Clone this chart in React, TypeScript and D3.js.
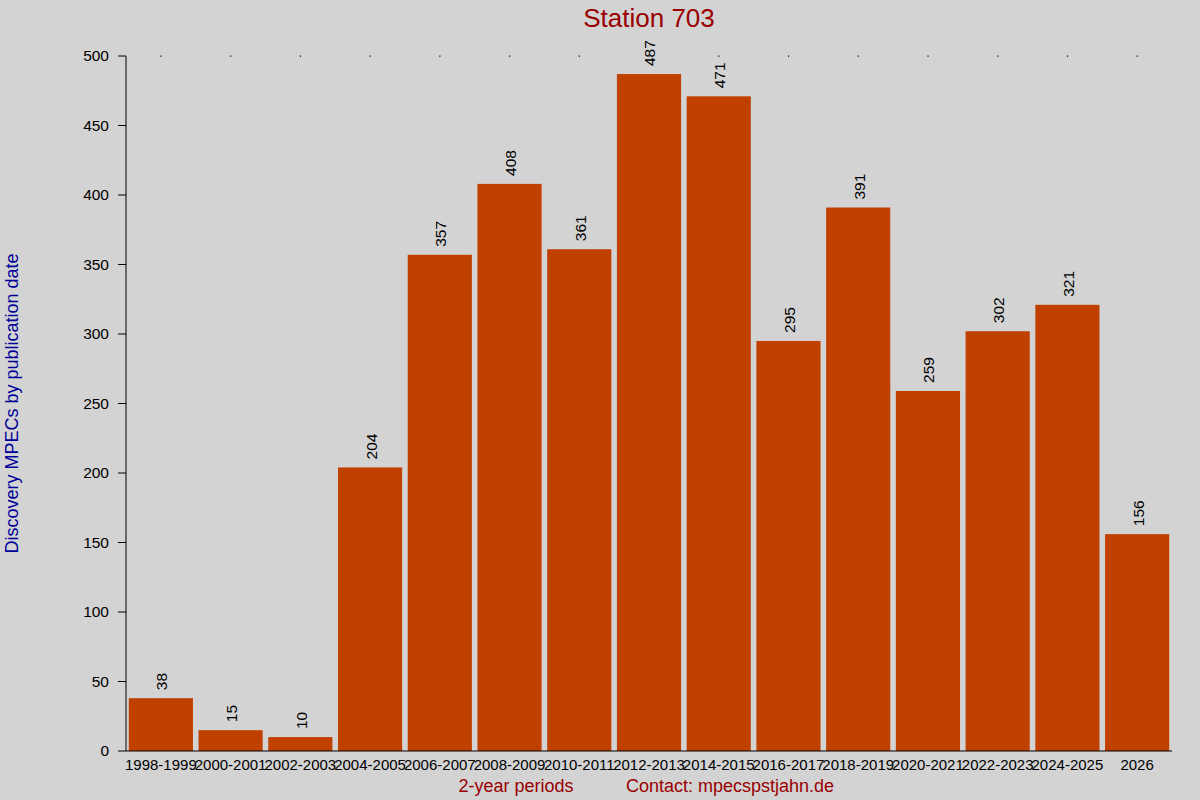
import * as d3 from 'd3';

const periods = [
  '1998-1999', '2000-2001', '2002-2003', '2004-2005', '2006-2007',
  '2008-2009', '2010-2011', '2012-2013', '2014-2015', '2016-2017',
  '2018-2019', '2020-2021', '2022-2023', '2024-2025', '2026',
];
const counts = [38, 15, 10, 204, 357, 408, 361, 487, 471, 295, 391, 259, 302, 321, 156];
const yTicks = [0, 50, 100, 150, 200, 250, 300, 350, 400, 450, 500];

const W = 1200;
const H = 800;
const FONT = 'Liberation Sans, Arial, sans-serif';

export default function App() {
  // plot area
  const left = 126;
  const right = 1172;
  const top = 56;
  const bottom = 751;

  const x = d3.scaleBand<string>()
    .domain(periods)
    .range([left, right])
    .paddingInner(0.08)
    .paddingOuter(0.04);

  const y = d3.scaleLinear().domain([0, 500]).range([bottom, top]);

  return (
    <svg
      width={W}
      height={H}
      style={{ position: 'absolute', left: 0, top: 0, background: '#d3d3d3' }}
      fontFamily={FONT}
    >
      <rect width={W} height={H} fill="#d3d3d3" />

      {/* title */}
      <text x={649} y={27} textAnchor="middle" fontSize={26} fill="#990000">
        Station 703
      </text>

      {/* bars */}
      {periods.map((p, i) => (
        <rect
          key={p}
          x={x(p)!}
          y={y(counts[i])}
          width={x.bandwidth()}
          height={y(0) - y(counts[i])}
          fill="#c04000"
        />
      ))}

      {/* value labels */}
      {periods.map((p, i) => {
        const cx = x(p)! + x.bandwidth() / 2 + 1;
        return (
          <text
            key={p}
            transform={`translate(${cx},${y(counts[i]) - 8}) rotate(-90)`}
            dy="0.35em"
            fontSize={15.5}
            fill="#000"
          >
            {counts[i]}
          </text>
        );
      })}

      {/* dots along the top */}
      {periods.map((p) => (
        <rect
          key={p}
          x={x(p)! + x.bandwidth() / 2 - 0.5}
          y={top - 0.5}
          width={1.2}
          height={1.2}
          fill="#000"
        />
      ))}

      {/* y axis */}
      <line x1={left} x2={left} y1={top} y2={bottom} stroke="#000" strokeWidth={1} />
      {yTicks.map((t) => (
        <g key={t}>
          <line x1={left - 8} x2={left} y1={y(t)} y2={y(t)} stroke="#000" strokeWidth={1} />
          <text x={109} y={y(t)} dy="0.35em" textAnchor="end" fontSize={15.5} fill="#000">
            {t}
          </text>
        </g>
      ))}

      {/* x axis */}
      <line x1={left} x2={right} y1={bottom} y2={bottom} stroke="#000" strokeWidth={1} />
      {periods.map((p) => (
        <text
          key={p}
          x={x(p)! + x.bandwidth() / 2}
          y={770}
          textAnchor="middle"
          fontSize={15}
          fill="#000"
        >
          {p}
        </text>
      ))}

      {/* axis titles */}
      <text x={516} y={792} textAnchor="middle" fontSize={18} fill="#990000">
        2-year periods
      </text>
      <text x={626} y={792} fontSize={18} fill="#990000">
        Contact: mpecspstjahn.de
      </text>
      <text
        transform={`translate(18,${(top + bottom) / 2}) rotate(-90)`}
        textAnchor="middle"
        fontSize={18}
        fill="#000099"
      >
        Discovery MPECs by publication date
      </text>
    </svg>
  );
}
